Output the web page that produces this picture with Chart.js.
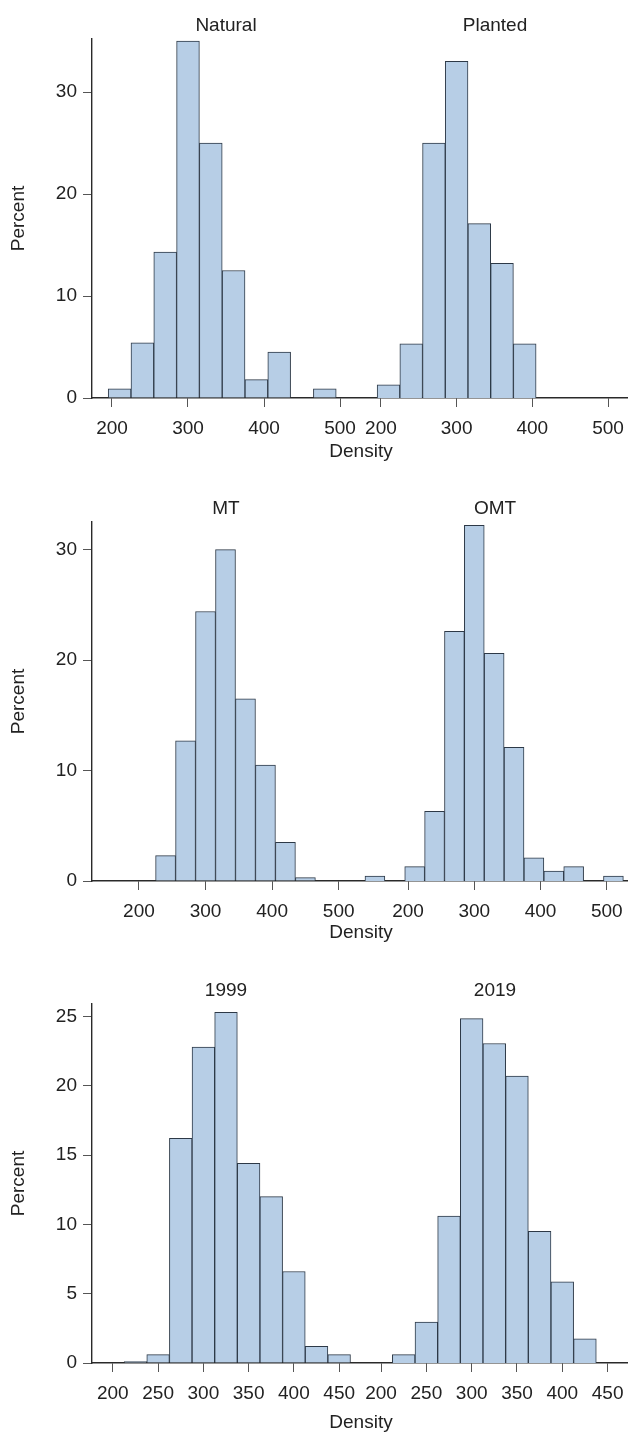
<!DOCTYPE html>
<html>
<head>
<meta charset="utf-8">
<script src="https://cdn.jsdelivr.net/npm/chart.js@4.4.1/dist/chart.umd.min.js"></script>
<style>
  body { margin: 0; background: #fff; width: 628px; height: 1433px; position: relative; overflow: hidden;
         font-family: "Liberation Sans", Arial, sans-serif; }
  canvas { position: absolute; left: 0; }
  .xlab { position: absolute; left: 261px; width: 200px; text-align: center; font-size: 19px;
          line-height: 22px; color: #222; }
</style>
</head>
<body>
<canvas id="natural" width="628" height="465" style="top:0"></canvas>
<canvas id="planted" width="628" height="465" style="top:0"></canvas>
<canvas id="mt" width="628" height="485" style="top:465px"></canvas>
<canvas id="omt" width="628" height="485" style="top:465px"></canvas>
<canvas id="y1999" width="628" height="483" style="top:950px"></canvas>
<canvas id="y2019" width="628" height="483" style="top:950px"></canvas>
<div class="xlab" style="top:440px">Density</div>
<div class="xlab" style="top:921px">Density</div>
<div class="xlab" style="top:1411px">Density</div>
<script>
// row 1: stand origin, 30-wide bins
const originBins = [210, 240, 270, 300, 330, 360, 390, 420, 450, 480];
const naturalPct = [0.9, 5.4, 14.3, 35, 25, 12.5, 1.8, 4.5, 0, 0.9];
const plantedPct = [1.3, 5.3, 25, 33, 17.1, 13.2, 5.3, 0, 0, 0];
const originXTicks = [200, 300, 400, 500];
const originYTicks = [0, 10, 20, 30];

// row 2: site type, 30-wide bins
const siteBins = [150, 180, 210, 240, 270, 300, 330, 360, 390, 420, 450, 480, 510];
const mtPct = [0, 0, 0, 2.3, 12.7, 24.4, 30, 16.5, 10.5, 3.5, 0.3, 0, 0];
const omtPct = [0.45, 0, 1.3, 6.3, 22.6, 32.2, 20.6, 12.1, 2.1, 0.9, 1.3, 0, 0.45];
const siteXTicks = [200, 300, 400, 500];
const siteYTicks = [0, 10, 20, 30];

// row 3: survey year, 25-wide bins
const yearBins = [225, 250, 275, 300, 325, 350, 375, 400, 425, 450];
const pct1999 = [0.1, 0.6, 16.2, 22.8, 25.3, 14.4, 12.0, 6.6, 1.2, 0.6];
const pct2019 = [0.6, 2.95, 10.6, 24.85, 23.05, 20.7, 9.5, 5.85, 1.75, 0];
const yearXTicks = [200, 250, 300, 350, 400, 450];
const yearYTicks = [0, 5, 10, 15, 20, 25];

const FONT = '"Liberation Sans", Arial, sans-serif';
const TEXT = '#222';
Chart.defaults.font.family = FONT;
Chart.defaults.font.size = 19;
Chart.defaults.color = TEXT;

// panel title centred over the plot area
const panelTitle = {
  id: 'panelTitle',
  afterDraw(chart, args, opts) {
    const { ctx, chartArea } = chart;
    ctx.save();
    ctx.font = '19px ' + FONT;
    ctx.fillStyle = TEXT;
    ctx.textAlign = 'center';
    ctx.textBaseline = 'alphabetic';
    ctx.fillText(opts.text, (chartArea.left + chartArea.right) / 2, chartArea.top - 8);
    ctx.restore();
  }
};

function panel(id, title, left, bins, values, xMin, xMax, xTicks, yMax, yTicks, plotTop, plotBottom) {
  const canvas = document.getElementById(id);
  const h = canvas.height;
  return new Chart(canvas, {
    type: 'bar',
    data: {
      datasets: [{
        data: bins.map((b, i) => ({ x: b, y: values[i] })),
        backgroundColor: '#b7cee6',
        borderColor: '#2d3947',
        borderWidth: 1,
        barPercentage: 1,
        categoryPercentage: 1,
        grouped: false
      }]
    },
    options: {
      responsive: false,
      animation: false,
      devicePixelRatio: 1,
      layout: { padding: { left: left ? 0 : 362, right: left ? 268 : 0, top: plotTop, bottom: 0 } },
      plugins: { legend: { display: false }, tooltip: { enabled: false }, panelTitle: { text: title } },
      scales: {
        x: {
          type: 'linear',
          min: xMin,
          max: xMax,
          offset: false,
          afterBuildTicks: s => { s.ticks = xTicks.map(v => ({ value: v })); },
          afterFit: s => { s.height = h - plotBottom; s.paddingLeft = 0; s.paddingRight = 0; },
          ticks: { padding: 10, color: TEXT, font: { size: 19 }, maxRotation: 0 },
          grid: { offset: false, drawOnChartArea: false, drawTicks: true, tickLength: 9, color: '#555', lineWidth: 1 },
          border: { display: true, color: '#2a2a2a', width: 1.4 }
        },
        y: {
          display: left,
          min: 0,
          max: yMax,
          afterBuildTicks: s => { s.ticks = yTicks.map(v => ({ value: v })); },
          afterFit: s => { s.width = left ? 92 : 0; s.paddingTop = 0; s.paddingBottom = 0; },
          ticks: { padding: 6, color: TEXT, font: { size: 19 } },
          title: { display: left, text: 'Percent', color: TEXT, font: { size: 19 }, padding: { top: 7, bottom: 0 } },
          grid: { drawOnChartArea: false, drawTicks: true, tickLength: 9, color: '#555', lineWidth: 1 },
          border: { display: left, color: '#2a2a2a', width: 1.4 }
        }
      }
    },
    plugins: [panelTitle]
  });
}

panel('natural', 'Natural', true, originBins, naturalPct, 173.7, 526.3, originXTicks, 35.2, originYTicks, 39, 398);
panel('planted', 'Planted', false, originBins, plantedPct, 175, 526.4, originXTicks, 35.2, originYTicks, 39, 398);
panel('mt', 'MT', true, siteBins, mtPct, 129.5, 532, siteXTicks, 32.5, siteYTicks, 57, 416);
panel('omt', 'OMT', false, siteBins, omtPct, 130.5, 532, siteXTicks, 32.5, siteYTicks, 57, 416);
panel('y1999', '1999', true, yearBins, pct1999, 177, 473, yearXTicks, 25.9, yearYTicks, 54, 413);
panel('y2019', '2019', false, yearBins, pct2019, 179, 472.5, yearXTicks, 25.9, yearYTicks, 54, 413);
</script>
</body>
</html>
